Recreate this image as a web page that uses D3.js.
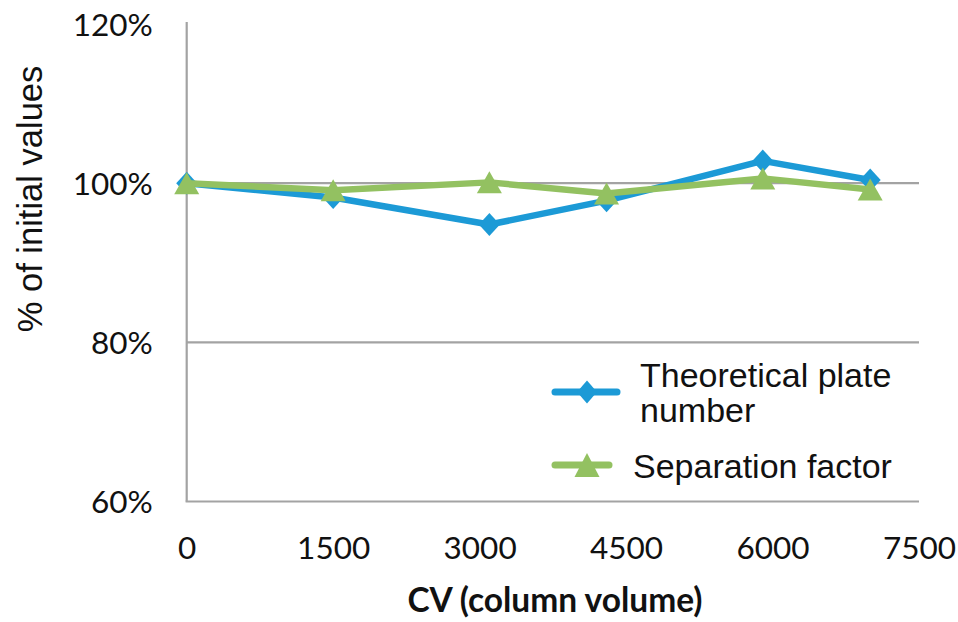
<!DOCTYPE html>
<html>
<head>
<meta charset="utf-8">
<script src="https://cdn.jsdelivr.net/npm/d3@7"></script>
<style>
  html, body { margin: 0; padding: 0; background: #fff; }
  svg { display: block; }
</style>
</head>
<body>
<svg id="chart" width="958" height="622"></svg>
<script>
const cv = [0, 1500, 3100, 4300, 5900, 7000];
const plateNumber = [100, 98.2, 94.8, 97.8, 102.8, 100.4];
const separationFactor = [100, 99.1, 100.1, 98.7, 100.6, 99.2];
const xTicks = [0, 1500, 3000, 4500, 6000, 7500];
const yTicks = [60, 80, 100, 120];
const seriesNames = ["Theoretical plate number", "Separation factor"];
const seriesColors = ["#1c9ad6", "#93c161"];

const svg = d3.select("#chart");
svg.append("rect").attr("width", 958).attr("height", 622).attr("fill", "#fff");

const x = d3.scaleLinear().domain([0, 7500]).range([186.7, 919]);
const y = d3.scaleLinear().domain([60, 120]).range([501.5, 24]);

const gridColor = "#a3a3a3";

// gridlines
svg.append("g").selectAll("line")
  .data(yTicks.filter(t => t > 60 && t < 120))
  .join("line")
  .attr("x1", x(0)).attr("x2", x(7500))
  .attr("y1", d => y(d)).attr("y2", d => y(d))
  .attr("stroke", gridColor).attr("stroke-width", 2.2);

// axis lines
svg.append("line").attr("x1", x(0)).attr("x2", x(0)).attr("y1", 22).attr("y2", y(60))
  .attr("stroke", gridColor).attr("stroke-width", 2.2);
svg.append("line").attr("x1", x(0) - 1.1).attr("x2", x(7500)).attr("y1", y(60)).attr("y2", y(60))
  .attr("stroke", gridColor).attr("stroke-width", 2.2);

// x axis labels
const xAxis = svg.append("g").attr("transform", `translate(0,${y(60)})`)
  .call(d3.axisBottom(x).tickValues(xTicks).tickSize(0).tickPadding(35).tickFormat(d3.format("d")));
xAxis.select(".domain").remove();
xAxis.selectAll("text").attr("font-family", "Lato, 'Open Sans', sans-serif")
  .attr("font-size", 31.5).attr("fill", "#111");

// y axis labels
const yAxis = svg.append("g").attr("transform", `translate(${x(0)},0)`)
  .call(d3.axisLeft(y).tickValues(yTicks).tickSize(0).tickPadding(34).tickFormat(d => d + "%"));
yAxis.select(".domain").remove();
yAxis.selectAll("text").attr("font-family", "Lato, 'Open Sans', sans-serif")
  .attr("font-size", 31.5).attr("fill", "#111").attr("dy", "0.35em");

// axis titles
svg.append("text")
  .attr("transform", "translate(42,199) rotate(-90)")
  .attr("text-anchor", "middle")
  .attr("font-family", "'Liberation Sans', Arial, sans-serif")
  .attr("font-size", 34.5).attr("fill", "#111")
  .text("% of initial values");

svg.append("text")
  .attr("x", 555).attr("y", 612)
  .attr("text-anchor", "middle")
  .attr("font-family", "Lato, 'Open Sans', sans-serif")
  .attr("font-weight", "bold")
  .attr("font-size", 33.5).attr("fill", "#111")
  .text("CV (column volume)");

// series
const line = d3.line().x(d => x(d[0])).y(d => y(d[1]));
const diamond = (cx, cy, w, h) => `M${cx},${cy - h / 2}L${cx + w / 2},${cy}L${cx},${cy + h / 2}L${cx - w / 2},${cy}Z`;
const triangle = (cx, cy, w, h) => `M${cx},${cy - h / 2}L${cx + w / 2},${cy + h / 2}L${cx - w / 2},${cy + h / 2}Z`;

const series = [plateNumber, separationFactor];
series.forEach((vals, i) => {
  const pts = cv.map((c, j) => [c, vals[j]]);
  const g = svg.append("g");
  g.append("path").attr("d", line(pts)).attr("fill", "none")
    .attr("stroke", seriesColors[i]).attr("stroke-width", 6.5).attr("stroke-linejoin", "round");
  g.selectAll("path.m").data(pts).join("path").attr("class", "m")
    .attr("d", d => i === 0 ? diamond(x(d[0]), y(d[1]), 21, 23) : triangle(x(d[0]), y(d[1]), 25, 22))
    .attr("fill", seriesColors[i]);
});

// legend
const lg = svg.append("g");
const legendFont = 34;
lg.append("line").attr("x1", 555).attr("x2", 617).attr("y1", 392).attr("y2", 392)
  .attr("stroke", seriesColors[0]).attr("stroke-width", 7).attr("stroke-linecap", "round");
lg.append("path").attr("d", diamond(587, 392, 20, 23)).attr("fill", seriesColors[0]);
lg.append("text").attr("x", 640).attr("y", 387)
  .attr("font-family", "'Liberation Sans', Arial, sans-serif").attr("font-size", legendFont).attr("fill", "#111")
  .text("Theoretical plate");
lg.append("text").attr("x", 640).attr("y", 422)
  .attr("font-family", "'Liberation Sans', Arial, sans-serif").attr("font-size", legendFont).attr("fill", "#111")
  .text("number");

lg.append("line").attr("x1", 555).attr("x2", 609).attr("y1", 465).attr("y2", 465)
  .attr("stroke", seriesColors[1]).attr("stroke-width", 7).attr("stroke-linecap", "round");
lg.append("path").attr("d", triangle(587, 465, 25, 24)).attr("fill", seriesColors[1]);
lg.append("text").attr("x", 633).attr("y", 478)
  .attr("font-family", "'Liberation Sans', Arial, sans-serif").attr("font-size", legendFont).attr("fill", "#111")
  .text("Separation factor");
</script>
</body>
</html>
